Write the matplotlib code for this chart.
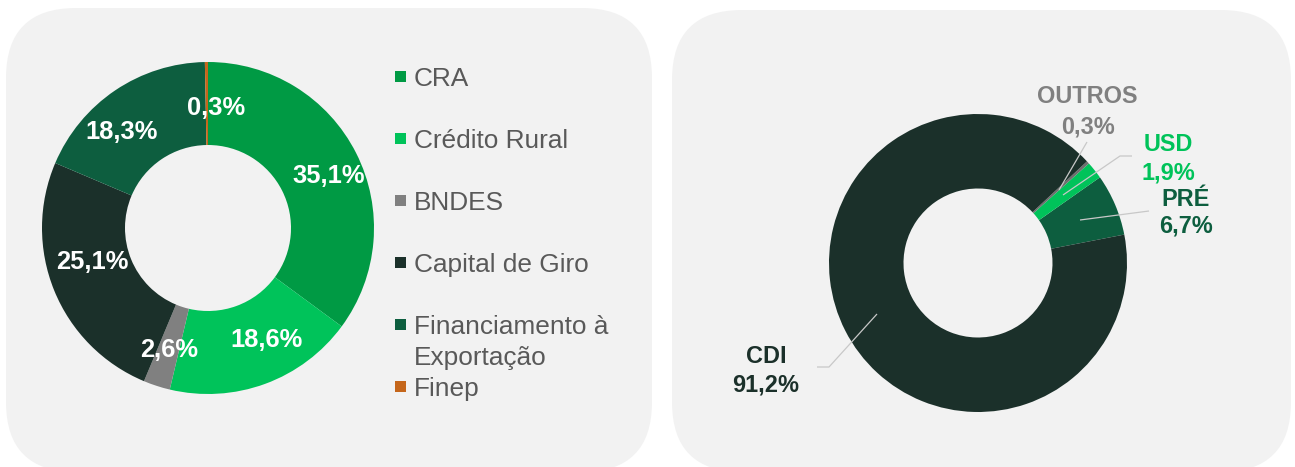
import matplotlib
matplotlib.use("Agg")
import matplotlib.pyplot as plt
from matplotlib.patches import FancyBboxPatch, Rectangle

plt.rcParams['font.family'] = ['Liberation Sans', 'DejaVu Sans']

# ---------------- data ----------------
left_categories = ["CRA", "Crédito Rural", "BNDES", "Capital de Giro",
                   "Financiamento à Exportação", "Finep"]
left_legend_labels = ["CRA", "Crédito Rural", "BNDES", "Capital de Giro",
                      "Financiamento à\nExportação", "Finep"]
left_values = [35.1, 18.6, 2.6, 25.1, 18.3, 0.3]
left_colors = ["#009A44", "#00C35A", "#808080", "#1B302A", "#0D5E3F", "#C5661B"]

right_categories = ["PRÉ", "USD", "OUTROS", "CDI"]
right_values = [6.7, 1.9, 0.3, 91.2]
right_colors = ["#0D5E3F", "#00C35A", "#6E6E6E", "#1B302A"]
right_label_colors = ["#0D5E3F", "#00C35A", "#808080", "#1B302A"]


def fmt(v):
    return f"{v:.1f}".replace(".", ",") + "%"


# ---------------- layout (pixels) ----------------
W, H = 1295, 467
fig = plt.figure(figsize=(W / 100, H / 100), dpi=100)

bg = fig.add_axes([0, 0, 1, 1], zorder=0)
bg.set_xlim(0, W)
bg.set_ylim(H, 0)
bg.axis("off")
panel_color = "#F2F2F2"
for (x0, y0, x1, y1) in [(6, 8, 652, 472), (672, 10, 1291, 472)]:
    bg.add_patch(FancyBboxPatch((x0, y0), x1 - x0, y1 - y0,
                                boxstyle="round,pad=0,rounding_size=70",
                                fc=panel_color, ec="none"))


def pie_axes(cx, cy, r):
    ax = fig.add_axes([(cx - r) / W, (H - cy - r) / H, 2 * r / W, 2 * r / H], zorder=1)
    return ax


# left donut
axl = pie_axes(208, 228, 166)
axl.pie(left_values, colors=left_colors, startangle=90, counterclock=False,
        radius=1, wedgeprops=dict(width=0.5, linewidth=0))
axl.set_xlim(-1, 1)
axl.set_ylim(-1, 1)
axl.axis("off")

# right donut
axr = pie_axes(978, 263, 149)
axr.pie(right_values, colors=right_colors, startangle=11, counterclock=True,
        radius=1, wedgeprops=dict(width=0.5, linewidth=0))
axr.set_xlim(-1, 1)
axr.set_ylim(-1, 1)
axr.axis("off")

# overlay in pixel coords
ov = fig.add_axes([0, 0, 1, 1], zorder=2)
ov.set_xlim(0, W)
ov.set_ylim(H, 0)
ov.axis("off")
ov.patch.set_alpha(0)

# left value labels (cap-center positions)
left_label_pos = [(329, 173.5), (266, 338), (169, 348), (92.5, 260), (122, 130), (216, 106)]
lfs = 18.4
for v, (x, y) in zip(left_values, left_label_pos):
    ov.text(x, y + 9.1, fmt(v), color="white", fontsize=lfs, fontweight="bold",
            ha="center", va="baseline")

# legend
leg_fs = 18.9
for i, (lab, c) in enumerate(zip(left_legend_labels, left_colors)):
    base = 86 + 62 * i
    ov.add_patch(Rectangle((395, base - 15), 11, 11, fc=c, ec="none"))
    for j, line in enumerate(lab.split("\n")):
        ov.text(414, base + 30.5 * j, line, color="#595959", fontsize=leg_fs,
                ha="left", va="baseline")

# right labels
right_label_pos = [(1185.5, 198, 224), (1168, 143, 171), (1087.5, 94.7, 124.7), (766, 354.7, 383)]
rfs = 16.9
for cat, v, c, (x, y1, y2) in zip(right_categories, right_values, right_label_colors, right_label_pos):
    ov.text(x, y1 + 8.4, cat, color=c, fontsize=rfs, fontweight="bold", ha="center", va="baseline")
    ov.text(x, y2 + 8.4, fmt(v), color=c, fontsize=rfs, fontweight="bold", ha="center", va="baseline")

# leader lines
leaders = [
    [(1149, 211), (1080, 220)],
    [(1132, 156), (1120, 156), (1063, 195)],
    [(1087, 142), (1059, 190)],
    [(817, 367), (829, 367), (877, 314)],
]
for pts in leaders:
    xs, ys = zip(*pts)
    ov.plot(xs, ys, color="#C8C8C8", lw=0.9, solid_capstyle="butt")

fig.savefig("out.png", dpi=100, facecolor="white")
